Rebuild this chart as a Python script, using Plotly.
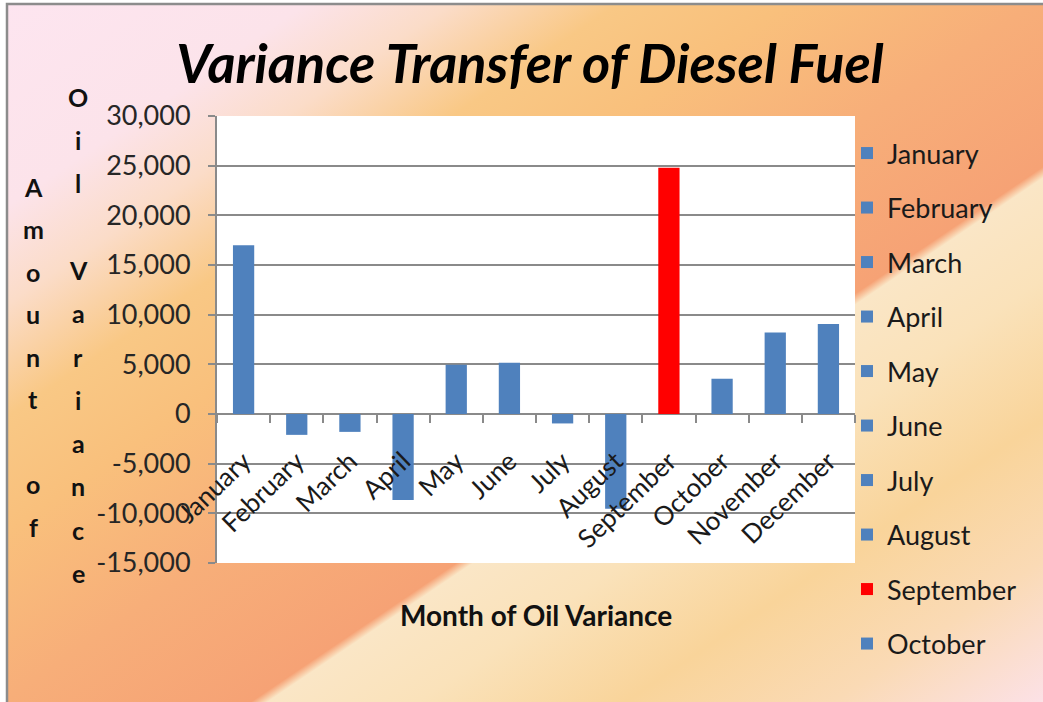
import base64
import plotly.graph_objects as go

# ---------------- data ----------------
months = ["January", "February", "March", "April", "May", "June", "July",
          "August", "September", "October", "November", "December"]
variance = [17000, -2100, -1800, -8650, 4950, 5150, -950, -9550, 24800, 3550, 8200, 9050]
highlight_month = "September"
legend_months = months[:10]          # legend in the reference is cut off after October
y_tick_values = [-15000, -10000, -5000, 0, 5000, 10000, 15000, 20000, 25000, 30000]
y_tick_text = [f"{v:,}" for v in y_tick_values]
title_text = "Variance Transfer of Diesel Fuel"
x_title = "Month of Oil Variance"
y_title_left = "Amount of"
y_title_right = "Oil Variance"

# ---------------- layout constants ----------------
W, H = 1043, 702
ML, MR, MT, MB = 217, 188, 116, 139
PW, PH = W - ML - MR, H - MT - MB
FONT = "Lato"
BLUE, RED = "#4F81BD", "#FF0000"
GRID = "#8A8A8A"

def px_x(x):
    return (x - ML) / PW

def px_y(y):
    return (H - MB - y) / PH

# ---------------- background gradient (svg) ----------------
stops = [(0.00, "#FDE5F0"), (0.15, "#FCE3EA"), (0.22, "#FBDCC8"), (0.30, "#F9C885"),
         (0.38, "#F9C07C"), (0.50, "#F7AE79"), (0.62, "#F6A275"), (0.628, "#FAE6C6"),
         (0.70, "#FAE2BA"), (0.80, "#F9D49A"), (0.90, "#FADAB5"), (1.00, "#FCE1E6")]
stop_xml = "".join(f'<stop offset="{o}" stop-color="{c}"/>' for o, c in stops)
svg = (f'<svg xmlns="http://www.w3.org/2000/svg" width="{W}" height="{H}" '
       f'viewBox="0 0 {W} {H}" preserveAspectRatio="none">'
       f'<defs><linearGradient id="g" gradientUnits="userSpaceOnUse" x1="0" y1="0" x2="652" y2="965">'
       f'{stop_xml}</linearGradient></defs>'
       f'<rect width="{W}" height="{H}" fill="white"/>'
       f'<rect x="7" y="4" width="{W + 50}" height="{H + 50}" fill="url(#g)" stroke="#8C8C8C" stroke-width="2.5"/>'
       f'</svg>')
svg_uri = "data:image/svg+xml;base64," + base64.b64encode(svg.encode()).decode()

# ---------------- figure ----------------
fig = go.Figure()
for m, v in zip(months, variance):
    fig.add_trace(go.Bar(
        x=[m], y=[v], name=m, legendgroup=m,
        showlegend=m in legend_months,
        width=0.4,
        marker=dict(color=RED if m == highlight_month else BLUE, line=dict(width=0)),
    ))

annotations = [
    dict(text=f"<b>{x_title}</b>", x=px_x(536), y=px_y(615), xref="paper", yref="paper",
         showarrow=False, font=dict(family=FONT, size=28, color="#111111"),
         xanchor="center", yanchor="middle"),
]
for i, ch in enumerate(y_title_left):
    if ch.strip():
        annotations.append(dict(text=f"<b>{ch}</b>", x=px_x(33), y=px_y(186.7 + i * 42.5),
                                xref="paper", yref="paper", showarrow=False,
                                font=dict(family=FONT, size=25, color="#111111"),
                                xanchor="center", yanchor="middle"))
for i, ch in enumerate(y_title_right):
    if ch.strip():
        annotations.append(dict(text=f"<b>{ch}</b>", x=px_x(78), y=px_y(96.7 + i * 43.3),
                                xref="paper", yref="paper", showarrow=False,
                                font=dict(family=FONT, size=25, color="#111111"),
                                xanchor="center", yanchor="middle"))

fig.update_layout(
    width=W, height=H,
    margin=dict(l=ML, r=MR, t=MT, b=MB, pad=0, autoexpand=False),
    paper_bgcolor="rgba(0,0,0,0)",
    plot_bgcolor="white",
    barmode="overlay",
    title=dict(text=title_text, x=530 / W, xanchor="center", y=1 - 64 / H, yanchor="middle",
               font=dict(family=FONT, size=54, color="black", weight="bold", style="italic")),
    xaxis=dict(type="category", categoryorder="array", categoryarray=months,
               anchor="free", position=1 / 3, domain=[0, 1],
               tickangle=-44, ticks="outside", tickson="boundaries", ticklen=8,
               ticklabelstandoff=26,
               tickcolor=GRID, tickwidth=1.5, showgrid=False, showline=False, zeroline=False,
               tickfont=dict(family=FONT, size=26, color="#1A1A1A")),
    yaxis=dict(range=[-15000, 30000], tickvals=y_tick_values, ticktext=y_tick_text,
               showgrid=True, gridcolor=GRID, gridwidth=1.5,
               zeroline=True, zerolinecolor=GRID, zerolinewidth=1.5,
               showline=True, linecolor=GRID, linewidth=2,
               ticks="outside", ticklen=7, tickcolor=GRID, tickwidth=1.5,
               ticklabelstandoff=12,
               tickfont=dict(family=FONT, size=27, color="#262626"), domain=[0, 1]),
    legend=dict(x=px_x(847), xanchor="left", y=px_y(129), yanchor="top",
                traceorder="grouped", tracegroupgap=16.4, maxheight=900,
                font=dict(family=FONT, size=27, color="#1A1A1A"),
                bgcolor="rgba(0,0,0,0)"),
    images=[dict(source=svg_uri, xref="paper", yref="paper",
                 x=-ML / PW, y=1 + MT / PH, sizex=W / PW, sizey=H / PH,
                 xanchor="left", yanchor="top", sizing="stretch", layer="below")],
    shapes=[dict(type="rect", xref="paper", yref="paper", x0=0, x1=1, y0=0, y1=1,
                 fillcolor="white", line=dict(width=0), layer="below")],
    annotations=annotations,
)

fig.write_html("out.html", config={"displayModeBar": False},
               post_script="document.body.style.margin='0';")
